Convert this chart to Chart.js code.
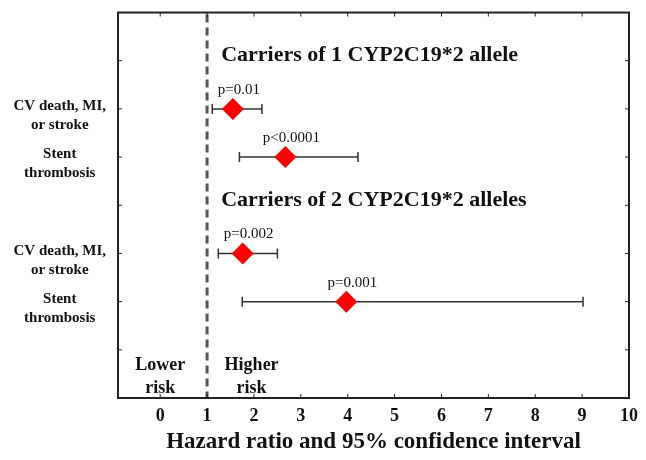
<!DOCTYPE html>
<html>
<head>
<meta charset="utf-8">
<script src="https://cdn.jsdelivr.net/npm/chart.js@4"></script>
<style>
  body { margin: 0; background: #fff; }
</style>
</head>
<body>
<canvas id="forest" width="646" height="460"></canvas>
<script>
// values
var outcomes = ['CV death, MI, or stroke', 'Stent thrombosis', 'CV death, MI, or stroke', 'Stent thrombosis'];
var rows = [2, 3, 5, 6];
var hazardRatio = [1.55, 2.67, 1.76, 3.97];
var ciLow = [1.11, 1.69, 1.24, 1.75];
var ciHigh = [2.17, 4.22, 2.50, 9.02];
var pValues = ['p=0.01', 'p<0.0001', 'p=0.002', 'p=0.001'];
var groupTitles = ['Carriers of 1 CYP2C19*2 allele', 'Carriers of 2 CYP2C19*2 alleles'];
var groupRows = [1, 4];
var rowLabels = ['', '', ['CV death, MI,', 'or stroke'], ['Stent', 'thrombosis'], '',
                 ['CV death, MI,', 'or stroke'], ['Stent', 'thrombosis'], '', ''];
var xTicks = [0, 1, 2, 3, 4, 5, 6, 7, 8, 9, 10];
var refLine = 1;
var riskLabels = [['Lower', 'risk'], ['Higher', 'risk']];
var xTitle = 'Hazard ratio and 95% confidence interval';

var serif = '"Liberation Serif", "Times New Roman", serif';

var forestPlugin = {
  id: 'forest',
  beforeDatasetsDraw: function(chart) {
    var ctx = chart.ctx, xs = chart.scales.x, ys = chart.scales.y, area = chart.chartArea;
    ctx.save();
    // dashed line at HR = 1
    var xr = xs.getPixelForValue(refLine);
    ctx.strokeStyle = '#555';
    ctx.lineWidth = 3;
    ctx.setLineDash([8, 5]);
    ctx.beginPath();
    ctx.moveTo(xr, area.top + 2);
    ctx.lineTo(xr, area.bottom);
    ctx.stroke();
    ctx.setLineDash([]);
    // confidence intervals
    ctx.strokeStyle = '#333';
    ctx.lineWidth = 1.5;
    rows.forEach(function(r, i) {
      var y = ys.getPixelForValue(r);
      var x1 = xs.getPixelForValue(ciLow[i]), x2 = xs.getPixelForValue(ciHigh[i]);
      ctx.beginPath();
      ctx.moveTo(x1, y); ctx.lineTo(x2, y);
      ctx.moveTo(x1, y - 5); ctx.lineTo(x1, y + 5);
      ctx.moveTo(x2, y - 5); ctx.lineTo(x2, y + 5);
      ctx.stroke();
    });
    ctx.restore();
  },
  afterDraw: function(chart) {
    var ctx = chart.ctx, xs = chart.scales.x, ys = chart.scales.y, a = chart.chartArea;
    ctx.save();
    // frame + inward ticks
    ctx.strokeStyle = '#222';
    ctx.lineWidth = 2;
    ctx.strokeRect(a.left, a.top, a.right - a.left, a.bottom - a.top);
    ctx.lineWidth = 1;
    ctx.beginPath();
    xTicks.forEach(function(v) {
      var x = xs.getPixelForValue(v);
      ctx.moveTo(x, a.top); ctx.lineTo(x, a.top + 4);
      ctx.moveTo(x, a.bottom); ctx.lineTo(x, a.bottom - 4);
    });
    for (var r = 1; r < rowLabels.length - 1; r++) {
      var y = ys.getPixelForValue(r);
      ctx.moveTo(a.left, y); ctx.lineTo(a.left + 4, y);
      ctx.moveTo(a.right, y); ctx.lineTo(a.right - 4, y);
    }
    ctx.stroke();

    ctx.fillStyle = '#111';
    ctx.textBaseline = 'middle';
    // group headings
    ctx.font = 'bold 22px ' + serif;
    ctx.textAlign = 'left';
    groupTitles.forEach(function(t, i) {
      ctx.fillText(t, xs.getPixelForValue(1.3), ys.getPixelForValue(groupRows[i]) - 5);
    });
    // p values
    ctx.font = '15px ' + serif;
    ctx.textAlign = 'center';
    pValues.forEach(function(p, i) {
      ctx.fillText(p, xs.getPixelForValue(hazardRatio[i]) + 6, ys.getPixelForValue(rows[i]) - 19);
    });
    // lower / higher risk
    ctx.font = 'bold 18px ' + serif;
    [0, 1.95].forEach(function(v, i) {
      var x = xs.getPixelForValue(v);
      ctx.fillText(riskLabels[i][0], x, a.bottom - 33);
      ctx.fillText(riskLabels[i][1], x, a.bottom - 10);
    });
    ctx.restore();
  }
};

var ctx = document.getElementById('forest');
var myChart = new Chart(ctx, {
  type: 'scatter',
  data: {
    datasets: [{
      label: 'Hazard ratio',
      data: rows.map(function(r, i) { return { x: hazardRatio[i], y: r }; }),
      pointStyle: 'rectRot',
      pointRadius: 11,
      pointHoverRadius: 11,
      backgroundColor: '#ff0000',
      borderColor: '#ff0000',
      borderWidth: 0
    }]
  },
  options: {
    responsive: false,
    animation: false,
    layout: { padding: { left: 0, right: 16, top: 8, bottom: 0 } },
    plugins: { legend: { display: false }, tooltip: { enabled: false } },
    scales: {
      x: {
        type: 'linear',
        min: -0.9,
        max: 10,
        afterBuildTicks: function(s) { s.ticks = xTicks.map(function(v) { return { value: v }; }); },
        afterFit: function(s) { s.height = 62; },
        grid: { display: false, drawTicks: false },
        border: { display: false },
        ticks: { color: '#111', padding: 8, font: { family: serif, size: 18, weight: 'bold' } },
        title: {
          display: true,
          text: xTitle,
          color: '#111',
          padding: { top: 0, bottom: 4 },
          font: { family: serif, size: 23, weight: 'bold' }
        }
      },
      y: {
        type: 'linear',
        reverse: true,
        min: 0,
        max: 8,
        afterBuildTicks: function(s) { s.ticks = rowLabels.map(function(l, i) { return { value: i }; }); },
        afterFit: function(s) { s.width = 118; },
        grid: { display: true, drawOnChartArea: false, drawTicks: true, tickLength: 9, color: 'rgba(0,0,0,0)', tickColor: 'rgba(0,0,0,0)' },
        border: { display: false },
        ticks: {
          color: '#111',
          crossAlign: 'center',
          labelOffset: 7,
          autoSkip: false,
          callback: function(v) { return rowLabels[v]; },
          font: { family: serif, size: 15, weight: 'bold', lineHeight: 1.27 }
        }
      }
    }
  },
  plugins: [forestPlugin]
});
</script>
</body>
</html>
